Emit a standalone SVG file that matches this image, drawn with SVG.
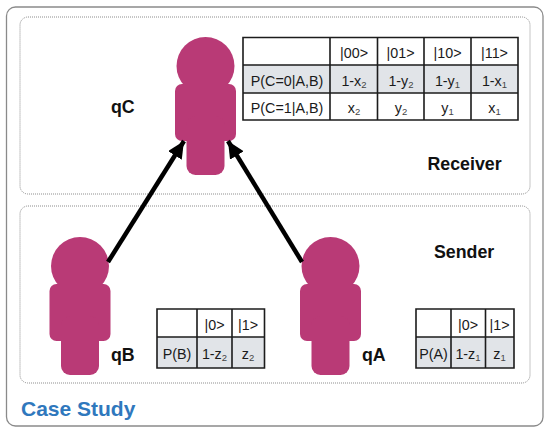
<svg xmlns="http://www.w3.org/2000/svg" width="550" height="432" viewBox="0 0 550 432">
<style>
text{font-family:"Liberation Sans",Arial,sans-serif;fill:#1a1a1a}
.c{font-size:14.300px;text-anchor:middle}
.s{font-size:9.500px;fill:#444}
.b{font-size:17.800px;font-weight:700;fill:#111}
.p{fill:#b93a76}
.zone{fill:#fff;stroke:#8c8c8c;stroke-width:1;stroke-dasharray:1 1}
.g{fill:#e1e4e8}
.t{fill:none;stroke:#1c1c1c;stroke-width:1.6}
.a{stroke:#000;stroke-width:4.500;fill:none;marker-end:url(#ah)}
</style>
<defs>
<marker id="ah" markerUnits="userSpaceOnUse" markerWidth="20" markerHeight="20" refX="17" refY="8" orient="auto"><path d="M0 0L17 8L0 16Z" fill="#000"/></marker>
<g id="person"><circle class="p" cx="0" cy="0" r="29"/><rect class="p" x="-30.500" y="18" width="61" height="57" rx="7"/><rect class="p" x="-19" y="50" width="38" height="59" rx="9"/></g>
</defs>
<rect width="550" height="432" fill="#fff"/>
<rect id="case-study-frame" x="6.500" y="7" width="536.500" height="419" rx="9" fill="#fff" stroke="#8a8a8a" stroke-width="1.300"/>
<rect id="receiver-zone" class="zone" x="20" y="17" width="510" height="177" rx="8"/>
<rect id="sender-zone" class="zone" x="20" y="206" width="510" height="177" rx="8"/>
<g id="qC"><use href="#person" x="205.500" y="66"/><text class="b" x="111" y="113">qC</text></g>
<g id="qB"><use href="#person" x="80" y="266"/><text class="b" x="111" y="361">qB</text></g>
<g id="qA"><use href="#person" x="330.500" y="266"/><text class="b" x="362" y="361">qA</text></g>
<g id="connectors">
<path class="a" d="M108 262L184 141"/>
<path class="a" d="M302 262L228 141"/>
</g>
<g id="table-c">
<rect class="g" x="243" y="65" width="275" height="28"/>
<path class="t" d="M243 37.500H518V120H243ZM243 65H518M243 93H518M330 37.500V120M377.500 37.500V120M424 37.500V120M471 37.500V120"/>
<text class="c" x="354" y="58">|00&gt;</text><text class="c" x="400.500" y="58">|01&gt;</text><text class="c" x="447.500" y="58">|10&gt;</text><text class="c" x="494.500" y="58">|11&gt;</text>
<text class="c" x="287" y="86">P(C=0|A,B)</text>
<text class="c" x="354" y="86">1-x<tspan class="s" dy="2">2</tspan></text><text class="c" x="401" y="86">1-y<tspan class="s" dy="2">2</tspan></text><text class="c" x="447.500" y="86">1-y<tspan class="s" dy="2">1</tspan></text><text class="c" x="494.500" y="86">1-x<tspan class="s" dy="2">1</tspan></text>
<text class="c" x="287" y="113">P(C=1|A,B)</text>
<text class="c" x="354" y="113">x<tspan class="s" dy="2">2</tspan></text><text class="c" x="401" y="113">y<tspan class="s" dy="2">2</tspan></text><text class="c" x="447.500" y="113">y<tspan class="s" dy="2">1</tspan></text><text class="c" x="494.500" y="113">x<tspan class="s" dy="2">1</tspan></text>
</g>
<g id="table-b">
<rect class="g" x="157" y="337" width="107.500" height="31"/>
<path class="t" d="M157 309H264.500V368H157ZM157 337H264.500M197 309V368M232 309V368"/>
<text class="c" x="214.500" y="330">|0&gt;</text><text class="c" x="248" y="330">|1&gt;</text>
<text class="c" x="177" y="359">P(B)</text><text class="c" x="214.500" y="359">1-z<tspan class="s" dy="2">2</tspan></text><text class="c" x="248" y="359">z<tspan class="s" dy="2">2</tspan></text>
</g>
<g id="table-a">
<rect class="g" x="416" y="337" width="98" height="31"/>
<path class="t" d="M416 309H514V368H416ZM416 337H514M451 309V368M485.500 309V368"/>
<text class="c" x="468" y="330">|0&gt;</text><text class="c" x="499.500" y="330">|1&gt;</text>
<text class="c" x="433.500" y="359">P(A)</text><text class="c" x="468" y="359">1-z<tspan class="s" dy="2">1</tspan></text><text class="c" x="499.500" y="359">z<tspan class="s" dy="2">1</tspan></text>
</g>
<text class="b" x="427.500" y="170">Receiver</text>
<text class="b" x="434" y="258">Sender</text>
<text x="21" y="416" style="font-size:21px;font-weight:700;fill:#2f78bd">Case Study</text>
</svg>
